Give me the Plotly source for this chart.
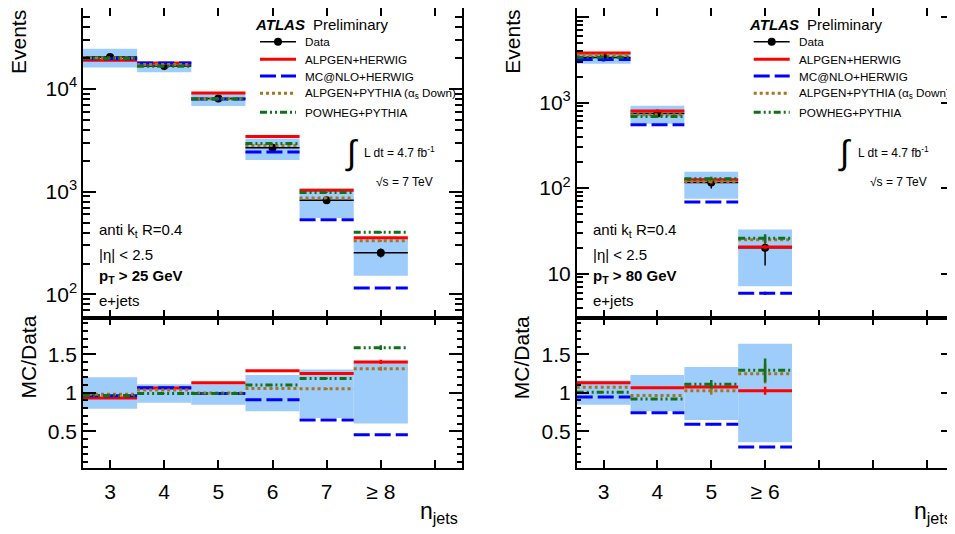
import plotly.graph_objects as go

# ---------------- data ----------------
left_centers = [3, 4, 5, 6, 7, 8]
left_labels = ["3", "4", "5", "6", "7", "≥ 8"]
left_data = [20400, 16700, 8060, 2670, 826, 254]
left_data_relerr = [0.007, 0.008, 0.012, 0.02, 0.035, 0.10]
left_band_up = [1.20, 1.11, 1.11, 1.23, 1.30, 1.39]
left_band_dn = [0.79, 0.87, 0.845, 0.76, 0.67, 0.60]
left_alpgen_herwig = [0.93, 1.06, 1.13, 1.285, 1.25, 1.40]
left_mcnlo_herwig = [0.96, 1.065, 0.99, 0.91, 0.645, 0.455]
left_alpgen_pythia = [0.98, 1.035, 0.995, 1.055, 1.05, 1.31]
left_powheg_pythia = [0.965, 0.99, 0.99, 1.10, 1.185, 1.585]
left_mc_relerr = [0.0, 0.0, 0.0, 0.0, 0.01, 0.02]

right_centers = [3, 4, 5, 6]
right_labels = ["3", "4", "5", "≥ 6"]
right_data = [3360, 745, 116, 20.0]
right_data_relerr = [0.017, 0.04, 0.15, 0.38]
right_band_up = [1.16, 1.23, 1.335, 1.635]
right_band_dn = [0.845, 0.76, 0.645, 0.355]
right_alpgen_herwig = [1.13, 1.065, 1.075, 1.025]
right_mcnlo_herwig = [0.945, 0.74, 0.59, 0.295]
right_alpgen_pythia = [1.07, 0.965, 1.025, 1.245]
right_powheg_pythia = [1.005, 0.918, 1.11, 1.29]
right_relerr_ah = [0.0, 0.0, 0.03, 0.05]
right_relerr_mh = [0.0, 0.0, 0.02, 0.04]
right_relerr_ap = [0.0, 0.0, 0.05, 0.10]
right_relerr_pp = [0.0, 0.0, 0.05, 0.12]

series_names = ["ALPGEN+HERWIG", "MC@NLO+HERWIG",
                "ALPGEN+PYTHIA (α<sub>s</sub> Down)", "POWHEG+PYTHIA"]
series_colors = ["#ff0000", "#0000ff", "#a8741e", "#11701a"]
series_dash = ["solid", "16px,5px", "3px,3px", "7px,3px,2px,3px,2px,3px"]

BAND = "#9ecdfb"
# the page body adds an 8 px offset; the figure is sized to fill the rest of the window
OFF = 8
W, H = 955 - OFF, 534 - OFF
FONT = "Liberation Sans, Arial, sans-serif"


def px(x):
    return min(1.0, max(0.0, (x - OFF) / W))


def py(y):
    return min(1.0, max(0.0, 1 - (y - OFF) / H))


fig = go.Figure()


def segs(centers, vals):
    xs, ys = [], []
    for c, v in zip(centers, vals):
        xs += [c - 0.5, c + 0.5, None]
        ys += [v, v, None]
    return xs, ys


def add_panel(centers, data, data_err, bup, bdn, mcs, mcerrs, xm, ym, xr, yr):
    # main band
    fig.add_trace(go.Bar(x=centers, base=[d * b for d, b in zip(data, bdn)],
                         y=[d * (u - b) for d, u, b in zip(data, bup, bdn)],
                         width=1, marker=dict(color=BAND, line=dict(width=0)),
                         xaxis=xm, yaxis=ym, hoverinfo="skip"))
    # ratio band
    fig.add_trace(go.Bar(x=centers, base=bdn, y=[u - b for u, b in zip(bup, bdn)],
                         width=1, marker=dict(color=BAND, line=dict(width=0)),
                         xaxis=xr, yaxis=yr, hoverinfo="skip"))
    # data
    fig.add_trace(go.Scatter(x=centers, y=data, mode="markers",
                             marker=dict(color="black", size=8),
                             error_x=dict(type="constant", value=0.5, width=0,
                                          thickness=1.5, color="black"),
                             error_y=dict(type="data", array=[d * e for d, e in zip(data, data_err)],
                                          width=0, thickness=1.5, color="black"),
                             xaxis=xm, yaxis=ym))
    # MC
    for i, (r, er) in enumerate(zip(mcs, mcerrs)):
        col, dash = series_colors[i], series_dash[i]
        mv = [d * v for d, v in zip(data, r)]
        xs, ys = segs(centers, mv)
        fig.add_trace(go.Scatter(x=xs, y=ys, mode="lines",
                                 line=dict(color=col, width=3, dash=dash),
                                 xaxis=xm, yaxis=ym))
        fig.add_trace(go.Scatter(x=centers, y=mv, mode="markers", marker=dict(size=1, color=col),
                                 error_y=dict(type="data", array=[m * e for m, e in zip(mv, er)],
                                              width=0, thickness=2.5, color=col),
                                 xaxis=xm, yaxis=ym))
        xs, ys = segs(centers, r)
        fig.add_trace(go.Scatter(x=xs, y=ys, mode="lines",
                                 line=dict(color=col, width=3, dash=dash),
                                 xaxis=xr, yaxis=yr))
        fig.add_trace(go.Scatter(x=centers, y=r, mode="markers", marker=dict(size=1, color=col),
                                 error_y=dict(type="data", array=[m * e for m, e in zip(r, er)],
                                              width=0, thickness=2.5, color=col),
                                 xaxis=xr, yaxis=yr))


add_panel(left_centers, left_data, left_data_relerr, left_band_up, left_band_dn,
          [left_alpgen_herwig, left_mcnlo_herwig, left_alpgen_pythia, left_powheg_pythia],
          [left_mc_relerr] * 4, "x", "y", "x2", "y2")
add_panel(right_centers, right_data, right_data_relerr, right_band_up, right_band_dn,
          [right_alpgen_herwig, right_mcnlo_herwig, right_alpgen_pythia, right_powheg_pythia],
          [right_relerr_ah, right_relerr_mh, right_relerr_ap, right_relerr_pp],
          "x3", "y3", "x4", "y4")

tickfont = dict(family=FONT, size=21, color="black")
common = dict(showline=True, linecolor="black", linewidth=1.5, mirror="ticks",
              ticks="inside", tickcolor="black", tickwidth=1.5, showgrid=False,
              zeroline=False, tickfont=tickfont, automargin=False)

x_ticks = [3, 4, 5, 6, 7, 8, 9]
L_dom = [px(83), px(462)]
R_dom = [px(576.7), px(953.5)]
main_dom = [py(317.7), py(6)]
ratio_dom = [py(467.7), py(317.7)]


def log_minor(lo, hi):
    vals = []
    dec = 1
    while dec < hi:
        for m in range(2, 10):
            v = m * dec
            if lo <= v <= hi:
                vals.append(v)
        dec *= 10
    return vals


ratio_minor = [round(0.1 * k, 1) for k in range(1, 20)]

fig.update_layout(
    width=W, height=H, margin=dict(l=0, r=0, t=0, b=0, autoexpand=False),
    plot_bgcolor="white", paper_bgcolor="white", showlegend=False, barmode="overlay",
    font=dict(family=FONT, color="black"),
    xaxis=dict(domain=L_dom, anchor="y", range=[2.5, 9.5], tickvals=x_ticks,
               showticklabels=False, ticklen=8, **common),
    yaxis=dict(domain=main_dom, anchor="x", type="log", range=[1.774, 4.786],
               tickvals=[100, 1000, 10000],
               ticktext=["10<sup>2</sup>", "10<sup>3</sup>", "10<sup>4</sup>"],
               ticklen=13, minor=dict(tickmode="array", tickvals=log_minor(59, 61000),
                                       ticks="inside", ticklen=7, tickcolor="black", tickwidth=1.5),
               **common),
    xaxis2=dict(domain=L_dom, anchor="y2", range=[2.5, 9.5], tickvals=x_ticks,
                ticktext=left_labels + [""], ticklen=8, ticklabelstandoff=4, **common),
    yaxis2=dict(domain=ratio_dom, anchor="x2", range=[0.026, 1.974],
                tickvals=[0.5, 1, 1.5], ticktext=["0.5", "1", "1.5"], ticklen=13,
                minor=dict(tickmode="array", tickvals=ratio_minor, ticks="inside",
                           ticklen=5, tickcolor="black", tickwidth=1.5),
                **common),
    xaxis3=dict(domain=R_dom, anchor="y3", range=[2.5, 9.5], tickvals=x_ticks,
                showticklabels=False, ticklen=8, **common),
    yaxis3=dict(domain=main_dom, anchor="x3", type="log", range=[0.484, 4.105],
                tickvals=[10, 100, 1000, 10000],
                ticktext=["10", "10<sup>2</sup>", "10<sup>3</sup>", "10<sup>4</sup>"],
                ticklen=13, minor=dict(tickmode="array", tickvals=log_minor(3, 12800),
                                        ticks="inside", ticklen=7, tickcolor="black", tickwidth=1.5),
                **common),
    xaxis4=dict(domain=R_dom, anchor="y4", range=[2.5, 9.5], tickvals=x_ticks,
                ticktext=right_labels + ["", "", ""], ticklen=8, ticklabelstandoff=4, **common),
    yaxis4=dict(domain=ratio_dom, anchor="x4", range=[0.026, 1.974],
                tickvals=[0.5, 1, 1.5], ticktext=["0.5", "1", "1.5"], ticklen=13,
                minor=dict(tickmode="array", tickvals=ratio_minor, ticks="inside",
                           ticklen=5, tickcolor="black", tickwidth=1.5),
                **common),
)


def txt(x, y, s, size, xanchor="left", yanchor="middle", angle=0):
    fig.add_annotation(x=px(x), y=py(y), xref="paper", yref="paper", text=s,
                       showarrow=False, xanchor=xanchor, yanchor=yanchor, textangle=angle,
                       font=dict(family=FONT, size=size, color="black"))


panels = [(0, "25"), (493.7, "80")]
leg_y = [41.7, 59.3, 76.0, 93.3, 112.3]
for dx, ptcut in panels:
    txt(253 + dx, 24, "<b><i>ATLAS</i></b>", 15)
    txt(311 + dx, 24, "Preliminary", 15)
    # legend: data
    fig.add_shape(type="line", xref="paper", yref="paper", x0=px(260 + dx), x1=px(296 + dx),
                  y0=py(leg_y[0]), y1=py(leg_y[0]), line=dict(color="black", width=1.5))
    fig.add_shape(type="circle", xref="paper", yref="paper", x0=px(274 + dx), x1=px(282 + dx),
                  y0=py(leg_y[0] + 4), y1=py(leg_y[0] - 4), fillcolor="black",
                  line=dict(color="black", width=0))
    txt(303 + dx, leg_y[0], "Data", 11.7)
    for i, name in enumerate(series_names):
        yy = leg_y[i + 1]
        fig.add_shape(type="line", xref="paper", yref="paper", x0=px(260 + dx), x1=px(296 + dx),
                      y0=py(yy), y1=py(yy),
                      line=dict(color=series_colors[i], width=3, dash=series_dash[i]))
        txt(303 + dx, yy, name, 11.7)
    # luminosity / energy
    txt(351 + dx, 152, "∫", 34, xanchor="center")
    txt(362 + dx, 152, "L dt = 4.7 fb<sup>-1</sup>", 12)
    txt(374 + dx, 181.7, "√s = 7 TeV", 12)
    # selection text
    txt(97 + dx, 230.7, "anti k<sub>t</sub> R=0.4", 15)
    txt(97 + dx, 254, "|η| < 2.5", 15)
    txt(97 + dx, 276.7, "<b>p<sub>T</sub> > " + ptcut + " GeV</b>", 15)
    txt(97 + dx, 300, "e+jets", 15)
    # axis titles
    txt(18 + dx, 8, "Events", 21, xanchor="center", yanchor="top", angle=-90)
    txt(28 + dx, 357.5, "MC/Data", 21, xanchor="center", angle=-90)
    txt(460 + dx, 512, "n<sub>jets</sub>", 23, xanchor="right")

fig.write_html("out.html")
